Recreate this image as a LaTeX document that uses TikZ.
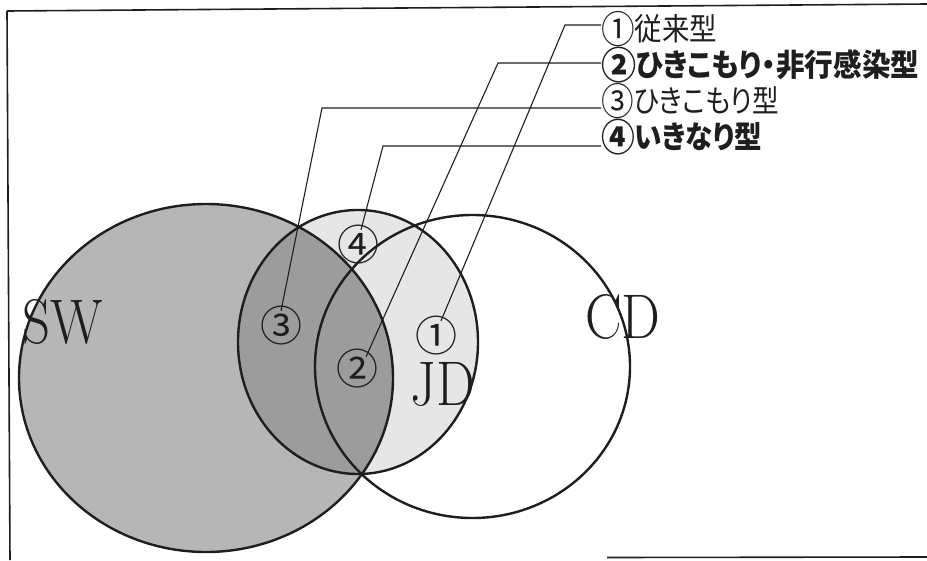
\documentclass[tikz,border=0pt]{standalone}
\usepackage{fontspec}
\usepackage{graphicx}
\newfontfamily\jpfont[RawFeature={+palt}]{Noto Sans CJK JP}
\newfontfamily\jpnum{Noto Sans CJK JP}
\definecolor{swgray}{HTML}{B6B6B6}
\definecolor{lensgray}{HTML}{9C9C9C}
\definecolor{jdlight}{HTML}{E6E6E6}
\definecolor{ink}{HTML}{1E1E1E}
% circled digit enlarged, lowered and given a tight box
\newcommand\legnum[1]{\raisebox{-3pt}[20pt][1pt]{\jpfont\fontsize{38}{38}\selectfont #1}}
\begin{document}
\begin{tikzpicture}[x=1pt,y=-1pt,
  outline/.style={line width=2.4pt, draw=ink},
  leader/.style={line width=1.1pt, draw=ink},
  framestyle/.style={line width=1.6pt, draw=ink},
  numlabel/.style={font=\jpnum\fontsize{42}{42}\selectfont, inner sep=0pt, anchor=center, text=ink, text height=30.5pt, text depth=1.5pt},
  legend/.style={font=\jpfont\fontsize{31}{31}\selectfont, inner sep=0pt, anchor=base west, text=ink},
  legendbold/.style={legend, font=\jpfont\bfseries\fontsize{31}{31}\selectfont},
  big/.style={font=\fontsize{63}{63}\selectfont, inner sep=0pt, anchor=base west, text=ink}]
\useasboundingbox (0,0) rectangle (927,560);
\def\SWpath{(206,378) ellipse [x radius=187pt, y radius=174pt]}
\def\JDpath{(358,342) ellipse [x radius=120pt, y radius=132pt]}
\def\CDpath{(472.5,366.5) ellipse [x radius=157.5pt, y radius=151.5pt]}
% fills
\fill[jdlight] \JDpath;
\fill[swgray] \SWpath;
\begin{scope}
  \clip \JDpath;
  \fill[lensgray] \SWpath;
\end{scope}
% outlines
\draw[outline] \SWpath;
\draw[outline] \JDpath;
\draw[outline] \CDpath;
% frame
\draw[framestyle] (7,11) -- (927,4);
\draw[framestyle] (7,11) -- (10,560);
\draw[framestyle] (607,557.5) -- (927,557);
% big labels
\node[big] (sw) at (22,343) {\scalebox{0.87}[1]{SW}};
\node[big] (cd) at (585,338) {\scalebox{0.87}[1]{CD}};
\node[big] (jd) at (410,405) {\scalebox{0.87}[1]{JD}};
% circled labels
\node[numlabel] (c1) at (436,337) {①};
\node[numlabel] (c2) at (357,370) {②};
\node[numlabel] (c3) at (281,327) {③};
\node[numlabel] (c4) at (358,246) {④};
% legend
\node[legend] (t1) at (601,40) {\resizebox{116pt}{\height}{\legnum{①}従来型}};
\node[legendbold] (t2) at (601,76) {\resizebox{318pt}{\height}{\legnum{②}ひきこもり・非行感染型}};
\node[legend] (t3) at (601,112) {\resizebox{178pt}{\height}{\legnum{③}ひきこもり型}};
\node[legendbold] (t4) at (601,148) {\resizebox{161pt}{\height}{\legnum{④}いきなり型}};
% leaders
\draw[leader] ([yshift=15pt]t1.base west) -- ++(-36,0) -- ([xshift=5pt]c1.north);
\draw[leader] ([yshift=13pt]t2.base west) -- ++(-103,0) -- ([xshift=9pt,yshift=-3pt]c2.north);
\draw[leader] ([yshift=4pt]t3.base west) -- ++(-279,0) -- (c3.north);
\draw[leader] ([yshift=2pt]t4.base west) -- ++(-218,0) -- ([xshift=3pt]c4.north);
\end{tikzpicture}
\end{document}
